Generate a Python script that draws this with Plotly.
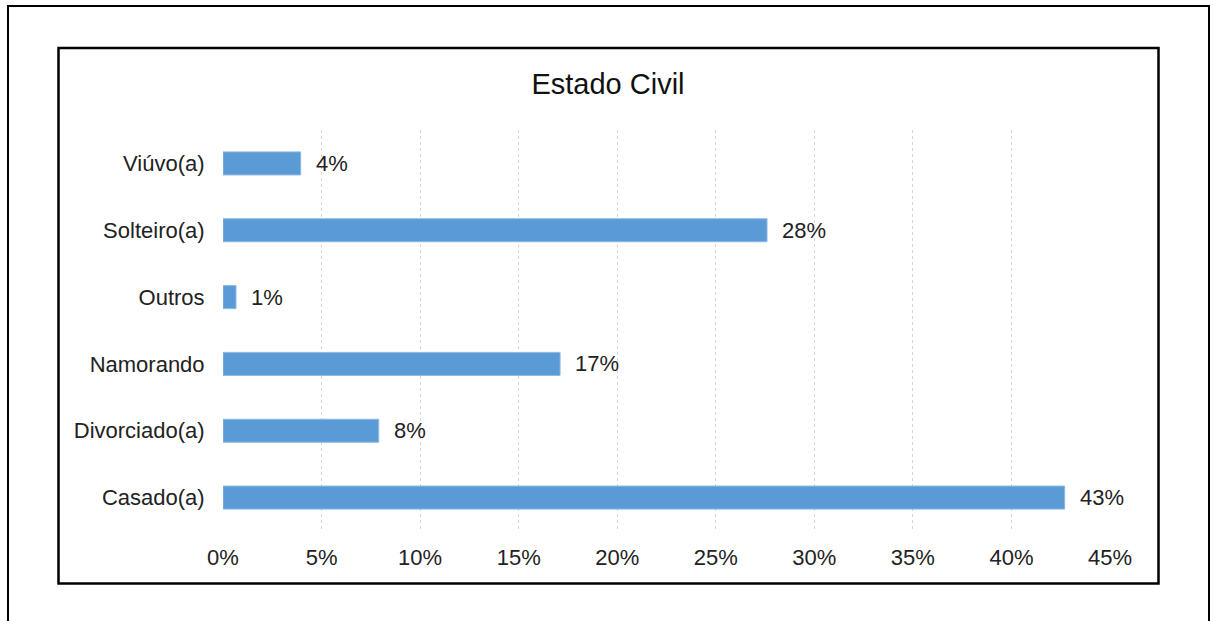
import plotly.graph_objects as go

# Estado civil dos respondentes (fração), de baixo para cima no eixo
categorias = ["Casado(a)", "Divorciado(a)", "Namorando", "Outros", "Solteiro(a)", "Viúvo(a)"]
valores = [0.427, 0.079, 0.171, 0.0066, 0.276, 0.0394]
ticks_x = [0, 0.05, 0.10, 0.15, 0.20, 0.25, 0.30, 0.35, 0.40, 0.45]

W, H = 1213, 621
L, R, T, B = 223, 103, 130, 90
pw, ph = W - L - R, H - T - B


def px_x(p):
    return (p - L) / pw


def px_y(p):
    return (H - B - p) / ph


FONT = "Liberation Sans, Arial, sans-serif"
BAR = "#5B9BD5"

fig = go.Figure(
    go.Bar(
        y=categorias,
        x=valores,
        orientation="h",
        marker=dict(color=BAR, line=dict(color="#8DB9E4", width=1)),
        hoverinfo="skip",
    )
)

# rótulos de valor à direita das barras
for c, v in zip(categorias, valores):
    fig.add_annotation(
        x=v, y=c, xref="x", yref="y",
        text=f"{v:.0%}", showarrow=False,
        xanchor="left", yanchor="middle", xshift=13,
        font=dict(family=FONT, size=22, color="#222222"),
    )

# moldura externa e moldura do gráfico
fig.add_shape(type="rect", xref="paper", yref="paper",
              x0=px_x(8), x1=px_x(1209), y0=px_y(640), y1=px_y(6),
              line=dict(color="#000000", width=2), layer="below")
fig.add_shape(type="rect", xref="paper", yref="paper",
              x0=px_x(58.5), x1=px_x(1158.5), y0=px_y(583.5), y1=px_y(48),
              line=dict(color="#000000", width=2.5), layer="below")

fig.update_layout(
    width=W, height=H,
    margin=dict(l=L, r=R, t=T, b=B, pad=0),
    paper_bgcolor="white", plot_bgcolor="white",
    bargap=0.655,
    showlegend=False,
    title=dict(text="Estado Civil", x=608 / W, xanchor="center",
               y=1 - 84 / H, yanchor="middle", yref="container",
               font=dict(family=FONT, size=29, color="#111111")),
    font=dict(family=FONT, size=22, color="#222222"),
    xaxis=dict(
        range=[0, 0.45], tickvals=ticks_x, tickformat=".0%",
        showgrid=True, gridcolor="#D6D6D6", gridwidth=1, griddash="dot",
        zeroline=False, showline=False,
        ticks="outside", ticklen=7, tickcolor="rgba(0,0,0,0)",
        tickfont=dict(family=FONT, size=22, color="#222222"),
        fixedrange=True,
    ),
    yaxis=dict(
        categoryorder="array", categoryarray=categorias,
        showgrid=False, zeroline=False, showline=False,
        ticks="outside", ticklen=13, tickcolor="rgba(0,0,0,0)",
        tickfont=dict(family=FONT, size=22, color="#222222"),
        fixedrange=True,
    ),
)

fig.write_html("out.html", config={"displayModeBar": False})
